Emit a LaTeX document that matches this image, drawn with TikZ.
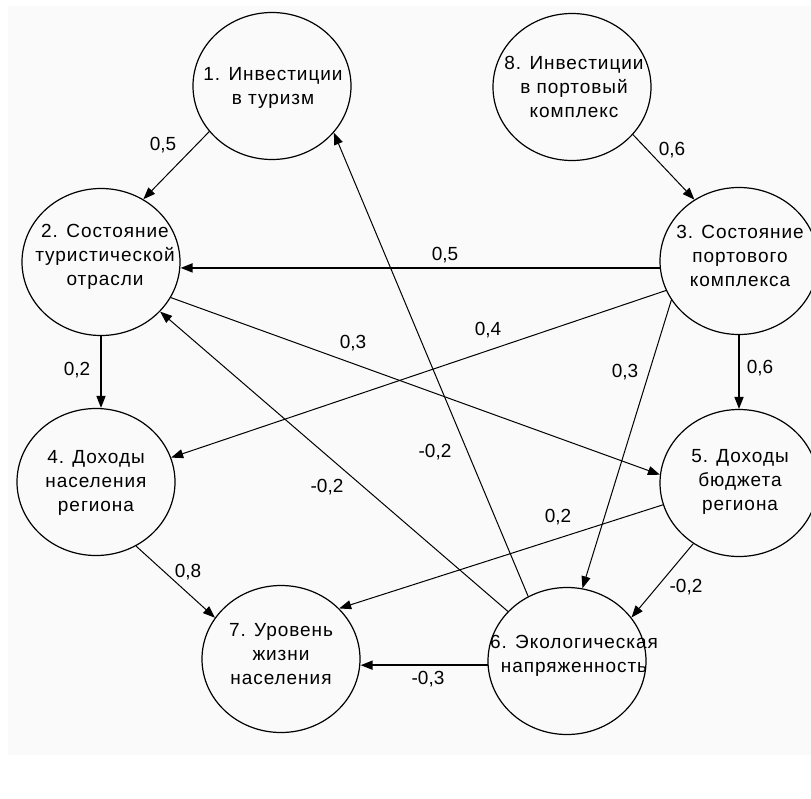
\documentclass[tikz,border=0pt]{standalone}
\usepackage{fontspec}
\setmainfont{Liberation Sans}
\newfontfamily\nodefont{Liberation Sans}[LetterSpace=5]
\usetikzlibrary{shapes.geometric,arrows.meta}
\begin{document}
\begin{tikzpicture}[x=1pt,y=-1pt,
  st/.style={ellipse, draw, line width=1.2pt, minimum width=158pt, minimum height=147pt,
             inner sep=0pt},
  txt/.style={align=center, inner sep=0pt, font=\nodefont\fontsize{19}{24}\selectfont},
  ar/.style={-{Triangle[length=12pt,width=9pt]}, line width=1pt},
  arb/.style={ar, line width=1.6pt},
  lb/.style={font=\fontsize{19}{22}\selectfont, inner sep=0pt}]
\useasboundingbox (0,0) rectangle (811,798);
\fill[black!2] (8,6) rectangle (811,755);

\node[st] (n1) at (272,86) {};
\node[st] (n8) at (572,87) {};
\node[st] (n2) at (101,262) {};
\node[st] (n3) at (739,261) {};
\node[st] (n4) at (96,482) {};
\node[st] (n5) at (739,483) {};
\node[st] (n6) at (567,661) {};
\node[st] (n7) at (281,659) {};

\node[txt] (t1) at (273,88) {1. Инвестиции\\в туризм};
\node[txt] (t8) at (574,87) {8. Инвестиции\\в портовый\\комплекс};
\node[txt] (t2) at (105,257) {2. Состояние\\туристической\\отрасли};
\node[txt] (t3) at (740,256) {3. Состояние\\портового\\комплекса};
\node[txt] (t4) at (96,483) {4. Доходы\\населения\\региона};
\node[txt] (t5) at (740,482) {5. Доходы\\бюджета\\региона};
\node[txt] (t6) at (574,656) {6. Экологическая\\напряженность};
\node[txt] (t7) at (281,654) {7. Уровень\\жизни\\населения};

\draw[ar] (n1.216) -- (n2.56);
\draw[ar] (n8.322) -- (n3.126);
\draw[arb] (n3.185) -- (n2.east |- n3.185);
\draw[ar] (n3.202) -- (n4.18);
\draw[ar] (n3.210) -- (n6.78);
\draw[arb] (n3.south) -- (n5.north);
\draw[arb] (n2.south) -- (n2.south |- n4.north);
\draw[ar] (n2.333) -- (n5.174);
\draw[ar] (n6.140) -- (n2.320);
\draw[ar] (n6.121) -- (n1.323);
\draw[ar] (n5.196) -- (n7.41);
\draw[ar] (n5.233) -- (n6.34);
\draw[arb] (n6.183) -- (n7.east |- n6.183);
\draw[ar] (n4.302) -- (n7.148);

\node[lb] (l1) at (163,145) {0,5};
\node[lb] (l2) at (672,150) {0,6};
\node[lb] (l3) at (445,255) {0,5};
\node[lb] (l4) at (488,330) {0,4};
\node[lb] (l5) at (625,372) {0,3};
\node[lb] (l6) at (760,368) {0,6};
\node[lb] (l7) at (77,370) {0,2};
\node[lb] (l8) at (353,343) {0,3};
\node[lb] (l9) at (327,487) {-0,2};
\node[lb] (l10) at (435,452) {-0,2};
\node[lb] (l11) at (558,517) {0,2};
\node[lb] (l12) at (686,587) {-0,2};
\node[lb] (l13) at (428,679) {-0,3};
\node[lb] (l14) at (188,572) {0,8};
\end{tikzpicture}
\end{document}
